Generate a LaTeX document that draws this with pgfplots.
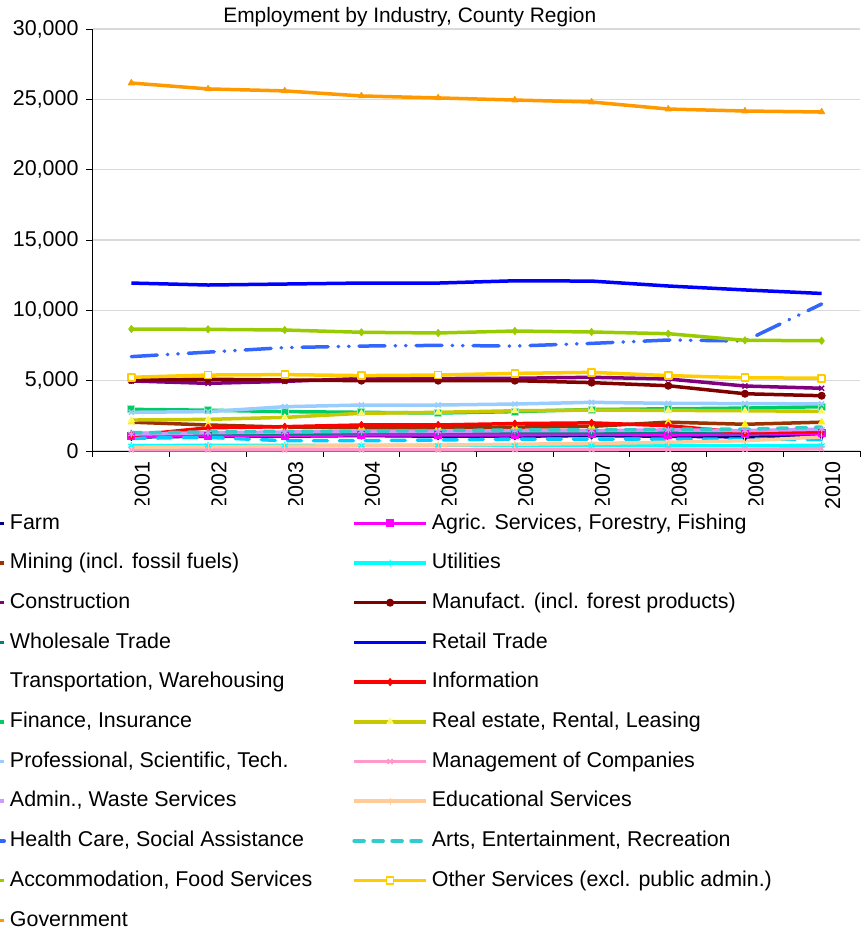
\documentclass[border=0pt]{standalone}
\usepackage{fontspec}
\setmainfont{Liberation Sans}
\usepackage{pgfplots}
\pgfplotsset{compat=1.18}

\definecolor{cFarm}{HTML}{000080}
\definecolor{cAgric}{HTML}{FF00FF}
\definecolor{cMining}{HTML}{993300}
\definecolor{cUtil}{HTML}{00FFFF}
\definecolor{cConstr}{HTML}{800080}
\definecolor{cManuf}{HTML}{800000}
\definecolor{cWhole}{HTML}{008080}
\definecolor{cRetail}{HTML}{0000FF}
\definecolor{cTrans}{HTML}{00CCFF}
\definecolor{cInfo}{HTML}{FF0000}
\definecolor{cFin}{HTML}{00CC66}
\definecolor{cReal}{HTML}{C8C800}
\definecolor{cProf}{HTML}{99CCFF}
\definecolor{cMgmt}{HTML}{FF99CC}
\definecolor{cAdmin}{HTML}{CC99FF}
\definecolor{cEduc}{HTML}{FFCC99}
\definecolor{cHealth}{HTML}{3366FF}
\definecolor{cArts}{HTML}{33CCCC}
\definecolor{cAccom}{HTML}{99CC00}
\definecolor{cOther}{HTML}{FFCC00}
\definecolor{cGov}{HTML}{FF9900}
\definecolor{cGrid}{HTML}{D9D9D9}

\begin{document}
\begin{tikzpicture}
\begin{axis}[
    name=ax,
    scale only axis,
    width=767bp, height=422bp,
    xmin=0.5, xmax=10.5,
    ymin=0, ymax=30000,
    axis lines*=left,
    axis line style={black, line width=1bp},
    xtick={1,...,10},
    xticklabels={2001,2002,2003,2004,2005,2006,2007,2008,2009,2010},
    minor xtick={0.5,1.5,...,10.5},
    major x tick style={draw=none},
    minor tick length=6bp,
    ytick={0,5000,...,30000},
    major tick length=7bp,
    tick align=outside,
    tick style={black, line width=1bp},
    scaled y ticks=false,
    tick label style={font=\fontsize{21.5}{25}\selectfont},
    yticklabel style={xshift=-4bp, /pgf/number format/.cd, fixed, 1000 sep={,}, assume math mode=true},
    xticklabel style={rotate=90, anchor=east, yshift=-11bp},
    ymajorgrids,
    grid style={cGrid, line width=1.2bp},
    title={Employment by Industry, County Region},
    title style={font=\fontsize{21}{24}\selectfont, at={(axis description cs:0.413,1)}, anchor=base, yshift=1bp, inner sep=0pt},
    every axis plot/.append style={line width=3.5bp, mark size=3.5bp, line join=round},
    legend columns=2,
    legend cell align=left,
    legend image code/.code={\draw[mark repeat=2,mark phase=2] plot coordinates {(0bp,0bp)(36bp,0bp)(72bp,0bp)};},
    legend style={
        font=\fontsize{21.5}{25}\selectfont,
        at={(axis description cs:-0.2226,-0.1276)}, anchor=north west,
        draw=none, fill=white, inner sep=8bp,
        nodes={inner sep=0pt, text height=16bp, text depth=4.5bp},
        row sep=19.2bp,
        /tikz/every odd column/.append style={column sep=4bp},
        /tikz/every even column/.append style={column sep=40bp},
    },
]

% Farm
\addplot[color=cFarm, mark=diamond*, mark options={line width=1bp}] coordinates {
    (1,1000)(2,1050)(3,1050)(4,1100)(5,1050)(6,1050)(7,1100)(8,1050)(9,1000)(10,1100)};
% Agric. Services
\addplot[color=cAgric, mark=square*, mark options={line width=1bp}] coordinates {
    (1,1050)(2,1100)(3,1100)(4,1150)(5,1150)(6,1150)(7,1200)(8,1150)(9,1200)(10,1250)};
% Mining
\addplot[color=cMining, mark=triangle*, mark options={line width=1bp, fill=yellow, draw=yellow}] coordinates {
    (1,2050)(2,1850)(3,1700)(4,1650)(5,1650)(6,1700)(7,1750)(8,2050)(9,1900)(10,2050)};
% Utilities
\addplot[color=cUtil, mark=asterisk, mark options={line width=1.2bp}] coordinates {
    (1,380)(2,400)(3,400)(4,400)(5,400)(6,400)(7,400)(8,390)(9,380)(10,400)};
% Construction
\addplot[color=cConstr, mark=x, mark options={line width=1.5bp}] coordinates {
    (1,4980)(2,4810)(3,4950)(4,5150)(5,5150)(6,5170)(7,5240)(8,5120)(9,4620)(10,4460)};
% Manufacturing
\addplot[color=cManuf, mark=*, mark options={line width=1bp}] coordinates {
    (1,5050)(2,5100)(3,5050)(4,5000)(5,5000)(6,5000)(7,4860)(8,4640)(9,4070)(10,3930)};
% Wholesale Trade
\addplot[color=cWhole, mark=star, mark options={line width=1.2bp}] coordinates {
    (1,1250)(2,1250)(3,1250)(4,1300)(5,1300)(6,1300)(7,1300)(8,1350)(9,1300)(10,1350)};
% Retail Trade
\addplot[color=cRetail, no markers] coordinates {
    (1,11940)(2,11800)(3,11870)(4,11940)(5,11940)(6,12100)(7,12080)(8,11730)(9,11450)(10,11200)};
% Transportation
\addplot[color=cTrans, no markers, dash pattern=on 14bp off 12bp, line cap=round] coordinates {
    (1,900)(2,970)(3,730)(4,730)(5,780)(6,850)(7,850)(8,850)(9,850)(10,800)};
% Information
\addplot[color=cInfo, mark=diamond*, mark options={line width=1bp}] coordinates {
    (1,1100)(2,1650)(3,1730)(4,1850)(5,1850)(6,1950)(7,2000)(8,1800)(9,1300)(10,1400)};
% Finance
\addplot[color=cFin, mark=square*, mark options={line width=1bp, draw=cFin!40!white}] coordinates {
    (1,2960)(2,2900)(3,2800)(4,2750)(5,2700)(6,2800)(7,2950)(8,3000)(9,3050)(10,3150)};
% Real estate
\addplot[color=cReal, mark=triangle*, mark options={line width=1bp, fill=yellow!70, draw=yellow!50}] coordinates {
    (1,2200)(2,2250)(3,2390)(4,2680)(5,2750)(6,2860)(7,2910)(8,2890)(9,2860)(10,2820)};
% Professional
\addplot[color=cProf, mark=x, mark options={line width=1.5bp}] coordinates {
    (1,2750)(2,2800)(3,3150)(4,3270)(5,3270)(6,3340)(7,3460)(8,3390)(9,3370)(10,3350)};
% Management
\addplot[color=cMgmt, mark=x, mark options={line width=1.5bp}] coordinates {
    (1,80)(2,80)(3,80)(4,80)(5,80)(6,100)(7,100)(8,120)(9,120)(10,170)};
% Admin
\addplot[color=cAdmin, mark=asterisk, mark options={line width=1.2bp}] coordinates {
    (1,1200)(2,1300)(3,1350)(4,1400)(5,1400)(6,1450)(7,1450)(8,1500)(9,1450)(10,1550)};
% Educational
\addplot[color=cEduc, mark=|, mark options={line width=1bp}] coordinates {
    (1,260)(2,300)(3,340)(4,380)(5,420)(6,480)(7,540)(8,620)(9,730)(10,1000)};
% Health Care
\addplot[color=cHealth, no markers, dash pattern=on 26bp off 10bp on 0.5bp off 10bp on 0.5bp off 10bp, line cap=round] coordinates {
    (1,6710)(2,7030)(3,7350)(4,7460)(5,7510)(6,7460)(7,7650)(8,7890)(9,7820)(10,10450)};
% Arts
\addplot[color=cArts, no markers, dash pattern=on 10bp off 9bp, line cap=round] coordinates {
    (1,1300)(2,1350)(3,1400)(4,1400)(5,1450)(6,1500)(7,1500)(8,1550)(9,1550)(10,1700)};
% Accommodation
\addplot[color=cAccom, mark=diamond*, mark options={line width=1bp}] coordinates {
    (1,8670)(2,8650)(3,8600)(4,8440)(5,8390)(6,8530)(7,8460)(8,8340)(9,7870)(10,7840)};
% Other Services
\addplot[color=cOther, mark=square*, mark options={line width=1.5bp, fill=white}] coordinates {
    (1,5240)(2,5400)(3,5430)(4,5360)(5,5400)(6,5520)(7,5590)(8,5360)(9,5210)(10,5170)};
% Government
\addplot[color=cGov, mark=triangle*, mark options={line width=1bp}] coordinates {
    (1,26160)(2,25740)(3,25600)(4,25240)(5,25100)(6,24950)(7,24810)(8,24310)(9,24170)(10,24100)};

\legend{Farm, {Agric. Services, Forestry, Fishing}, Mining (incl. fossil fuels), Utilities,
    Construction, Manufact. (incl. forest products), Wholesale Trade, Retail Trade,
    {Transportation, Warehousing}, Information, {Finance, Insurance}, {Real estate, Rental, Leasing},
    {Professional, Scientific, Tech.}, Management of Companies, {Admin., Waste Services}, Educational Services,
    {Health Care, Social Assistance}, {Arts, Entertainment, Recreation}, {Accommodation, Food Services},
    Other Services (excl. public admin.), Government}
\end{axis}
\pgfresetboundingbox
\useasboundingbox ([xshift=-93bp,yshift=-477bp]ax.south west) rectangle ([xshift=1bp,yshift=29bp]ax.north east);
\end{tikzpicture}
\end{document}
